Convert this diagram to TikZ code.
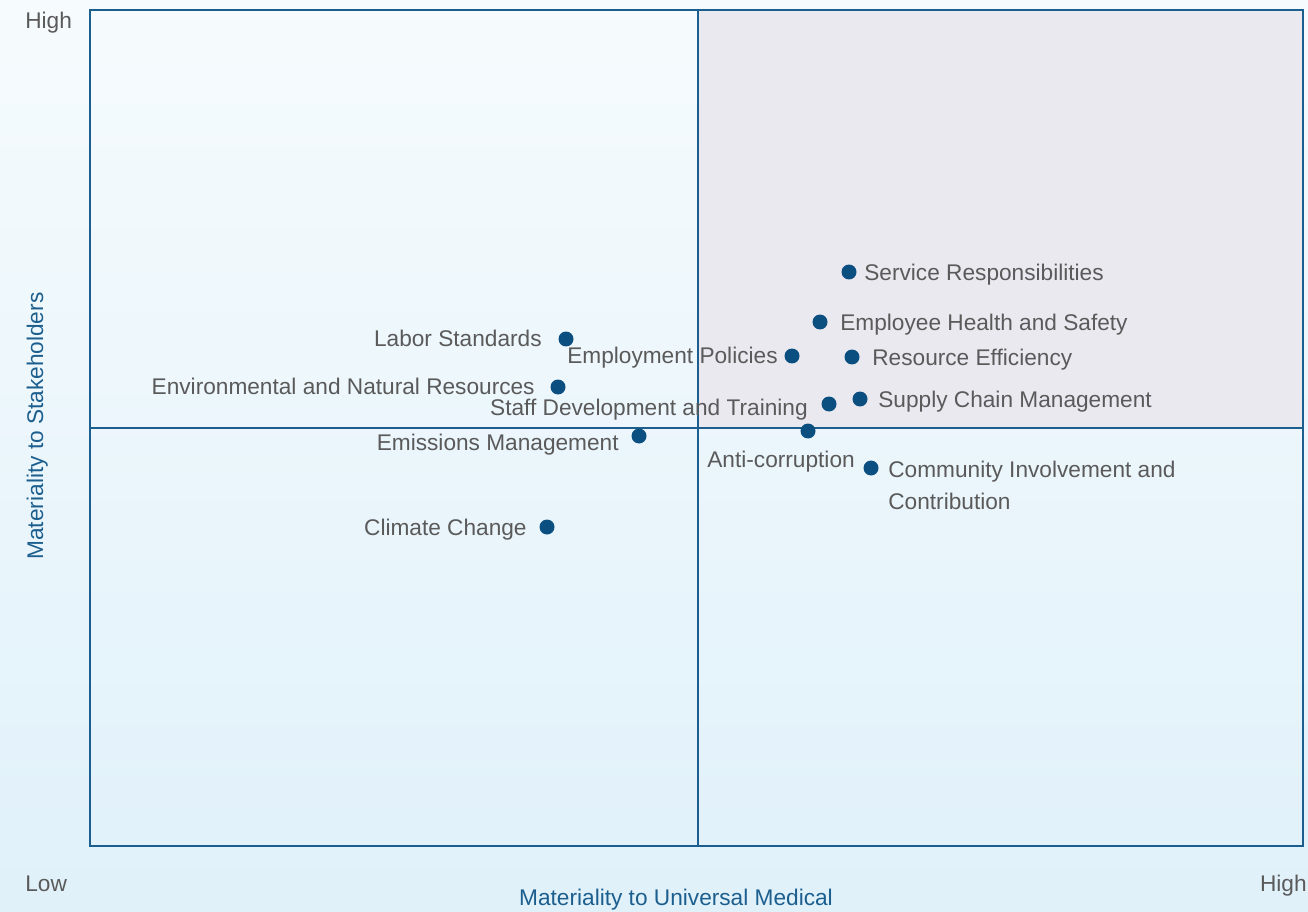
\documentclass[tikz,border=0pt]{standalone}
\usepackage{fontspec}
\setmainfont{Liberation Sans}
\definecolor{framecol}{HTML}{1C5F8E}
\definecolor{dotcol}{HTML}{0B4F80}
\definecolor{labelgrey}{HTML}{5A5A5A}
\definecolor{quadfill}{HTML}{EBE9F0}
\definecolor{bgtop}{HTML}{F6FBFD}
\definecolor{bgbot}{HTML}{E0F1FA}
\begin{document}
\begin{tikzpicture}[x=0.02cm,y=-0.02cm,
    dot/.style={circle,fill=dotcol,inner sep=0pt,minimum size=0.3cm},
    lbl/.style={text=labelgrey,inner sep=0pt,font=\fontsize{12.9}{18.1}\selectfont},
    axtitle/.style={text=framecol,inner sep=0pt,font=\fontsize{12.9}{15.5}\selectfont}]
    \useasboundingbox (0,0) rectangle (1308,912);
    \shade[top color=bgtop,bottom color=bgbot] (0,0) rectangle (1308,912);
    \fill[quadfill] (698,10) rectangle (1303,428);
    \draw[framecol,line width=1.1pt] (90,10) rectangle (1303,846);
    \draw[framecol,line width=1.1pt] (698,10) -- (698,846);
    \draw[framecol,line width=1.1pt] (90,428) -- (1303,428);
    % axis ends
    \node[lbl,anchor=base west] (yhigh) at (25,29) {High};
    \node[lbl,anchor=base west] (xlow) at (25,891) {Low};
    \node[lbl,anchor=base east] (xhigh) at (1307,891) {High};
    \node[axtitle,anchor=base] (xtitle) at (676,905) {Materiality to Universal Medical};
    \node[axtitle,anchor=base,rotate=90] (ytitle) at (43,426) {Materiality to Stakeholders};
    % topics
    \node[dot] (srv) at (849,272) {};
    \node[lbl,anchor=base west] (srvL) at (864,280) {Service Responsibilities};
    \node[dot] (ehs) at (820,322) {};
    \node[lbl,anchor=base west] (ehsL) at (840,330) {Employee Health and Safety};
    \node[dot] (res) at (852,357) {};
    \node[lbl,anchor=base west] (resL) at (872,365) {Resource Efficiency};
    \node[dot] (scm) at (860,399) {};
    \node[lbl,anchor=base west] (scmL) at (878,407) {Supply Chain Management};
    \node[dot] (emp) at (792,356) {};
    \node[lbl,anchor=base east] (empL) at (778,363) {Employment Policies};
    \node[dot] (sdt) at (829,404) {};
    \node[lbl,anchor=base east] (sdtL) at (808,415) {Staff Development and Training};
    \node[dot] (lab) at (566,339) {};
    \node[lbl,anchor=base east] (labL) at (542,346) {Labor Standards};
    \node[dot] (env) at (558,387) {};
    \node[lbl,anchor=base east] (envL) at (535,394) {Environmental and Natural Resources};
    \node[dot] (ems) at (639,436) {};
    \node[lbl,anchor=base east] (emsL) at (619,450) {Emissions Management};
    \node[dot] (anti) at (808,431) {};
    \node[lbl,anchor=base west] (antiL) at (707,467) {Anti-corruption};
    \node[dot] (com) at (871,468) {};
    \node[lbl,anchor=base west,align=left] (comL) at (888,509) {Community Involvement and\\Contribution};
    \node[dot] (clim) at (547,527) {};
    \node[lbl,anchor=base east] (climL) at (527,535) {Climate Change};
\end{tikzpicture}
\end{document}
